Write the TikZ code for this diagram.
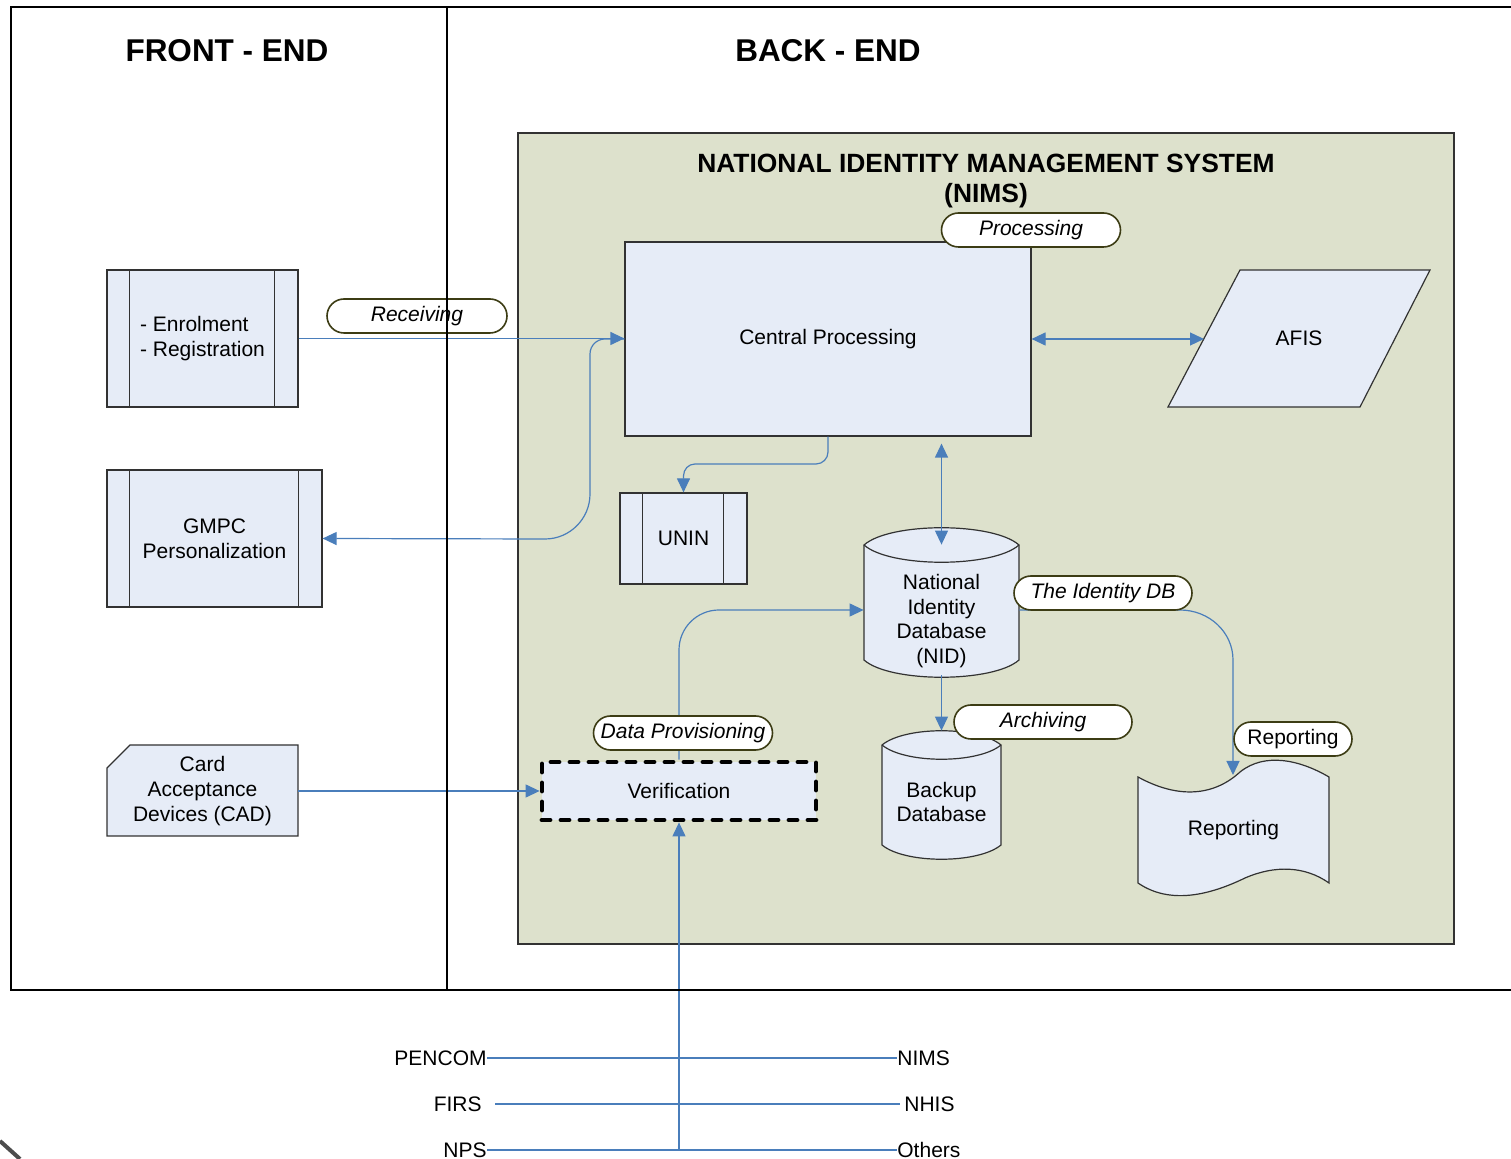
\documentclass[tikz,border=0pt]{standalone}
\usepackage{fontspec}
\setmainfont{Liberation Sans}
\usetikzlibrary{arrows.meta}

\definecolor{boxfill}{RGB}{230,236,247}
\definecolor{nimsfill}{RGB}{221,225,204}
\definecolor{flow}{RGB}{74,126,187}
\definecolor{pillrim}{RGB}{60,60,20}
\definecolor{rim}{RGB}{50,50,50}

\begin{document}
\begin{tikzpicture}[x=0.5pt,y=-0.5pt,
  every node/.style={font=\fontsize{10.5}{12.3}\selectfont, inner sep=0pt},
  box/.style={draw=rim, fill=boxfill, line width=0.6pt, align=center},
  shapebox/.style={draw=rim, fill=boxfill, line width=0.6pt},
  rimline/.style={draw=rim, line width=0.6pt},
  pill/.style={draw=pillrim, fill=white, line width=0.8pt, rounded corners=8.5pt,
    minimum height=17pt, font=\fontsize{10.5}{12.3}\selectfont\itshape},
  conn/.style={draw=flow, line width=0.6pt},
  heading/.style={font=\bfseries\fontsize{15.75}{18}\selectfont},
  >={Triangle[length=7pt,width=6.5pt]}
]
\path[use as bounding box] (0,0) rectangle (1511,1159);

% back-end system area
\filldraw[fill=nimsfill, draw=rim, line width=0.6pt] (518,133) rectangle (1454,944);

% headings
\node[heading] (fe) at (227,51) {FRONT - END};
\node[heading] (be) at (828,51) {BACK - END};
\node[font=\bfseries\fontsize{13.2}{15}\selectfont, align=center] (nimsT) at (986,181)
  {NATIONAL IDENTITY MANAGEMENT SYSTEM\\(NIMS)};

% central processing and AFIS
\node[box, minimum width=203pt, minimum height=97pt] (central) at (828,339) {Central Processing};
\draw[shapebox] (1240,270) -- (1430,270) -- (1360,407) -- (1168,407) -- cycle;
\node (afis) at (1299,338) {AFIS};
\coordinate (afisL) at (1204,339);

% front-end processes
\node[box, minimum width=95.5pt, minimum height=68.5pt, align=left] (enr) at (202.5,338.5)
  {- Enrolment\\- Registration};
\draw[rimline] ([xshift=11.5pt]enr.north west) -- ([xshift=11.5pt]enr.south west)
  ([xshift=-12pt]enr.north east) -- ([xshift=-12pt]enr.south east);

\node[box, minimum width=107.5pt, minimum height=68.5pt] (gmpc) at (214.5,538.5)
  {GMPC\\Personalization};
\draw[rimline] ([xshift=11.5pt]gmpc.north west) -- ([xshift=11.5pt]gmpc.south west)
  ([xshift=-12pt]gmpc.north east) -- ([xshift=-12pt]gmpc.south east);

\node[box, minimum width=63.5pt, minimum height=45.5pt] (unin) at (683.5,538.5) {UNIN};
\draw[rimline] ([xshift=11.5pt]unin.north west) -- ([xshift=11.5pt]unin.south west)
  ([xshift=-12pt]unin.north east) -- ([xshift=-12pt]unin.south east);

% card acceptance devices (card shape)
\draw[shapebox] (107,768) -- (130,745) -- (298,745) -- (298,836) -- (107,836) -- cycle;
\node[align=center, minimum width=95.5pt, minimum height=45.5pt] (cad) at (202.5,791)
  {Card\\Acceptance\\Devices (CAD)};

% verification
\node[box, draw=black, line width=2.4pt, dash pattern=on 4pt off 5.5pt, line cap=round,
  line join=round, minimum width=137pt, minimum height=29pt] (ver) at (679,791) {Verification};

% national identity database (cylinder)
\draw[shapebox] (864,545) .. controls (890,522) and (993,522) .. (1019,545) -- (1019,660)
  .. controls (993,683) and (890,683) .. (864,660) -- cycle;
\draw[rimline] (864,545) .. controls (890,568) and (993,568) .. (1019,545);
\node[minimum width=77.5pt, minimum height=65pt] (nid) at (941.5,610) {};
\node[align=center] (nidT) at (941.5,621) {National\\Identity\\Database\\(NID)};

% backup database (cylinder)
\draw[shapebox] (882,745) .. controls (905,726) and (978,726) .. (1001,745) -- (1001,845)
  .. controls (978,864) and (905,864) .. (882,845) -- cycle;
\draw[rimline] (882,745) .. controls (905,764) and (978,764) .. (1001,745);
\node[minimum width=59.5pt, minimum height=64pt] (backup) at (941.5,795) {};
\node[align=center] (backupT) at (941.5,802) {Backup\\Database};

% reporting (document shape)
\draw[shapebox] (1138,777) .. controls (1180,800) and (1215,795) .. (1240,772)
  .. controls (1265,752) and (1300,760) .. (1329,777) -- (1329,883)
  .. controls (1305,866) and (1275,865) .. (1245,878)
  .. controls (1210,895) and (1170,905) .. (1138,883) -- cycle;
\node (rep) at (1233.5,830) {Reporting};
\coordinate (repTop) at (1233,775);

% connectors
\draw[conn,->] (enr.east) -- (enr.east -| central.west);
\draw[conn,->] (central.west) -- (605,339) .. controls (596.7,339) and (590,345.7) .. (590,354)
  -- (590,494) .. controls (590,518.8) and (569.8,539) .. (545,539) -- (gmpc.east);
\draw[conn,->] (central.south) -- (828,452) .. controls (828,458.6) and (822.6,464) .. (816,464)
  -- (695,464) .. controls (688.4,464) and (683.5,469.4) .. (683.5,476) -- (unin.north);
\draw[conn,<->] (central.east) -- (afisL);
\draw[conn,<->,shorten <=3.5pt] (central.south -| nid.north) -- (nid.north);
\draw[conn,->] (nid.south) -- (backup.north);
\draw[conn,->] (nid.east) -- (1180,610) .. controls (1209,610) and (1233,632) .. (1233,660)
  -- (repTop);
\draw[conn,->] (ver.north) -- (679,650) .. controls (679,627.9) and (696.9,610) .. (719,610)
  -- (nid.west);
\draw[conn,->] (cad.east) -- (ver.west);

% agencies sharing the verification service
\node[anchor=east] (pencom) at (487,1058) {PENCOM};
\node[anchor=east] (firs) at (482,1104) {FIRS};
\node[anchor=east] (nps) at (487,1150) {NPS};
\node[anchor=west] (nimsR) at (897,1058) {NIMS};
\node[anchor=west] (nhis) at (904,1104) {NHIS};
\node[anchor=west] (others) at (897,1150) {Others};
\draw[conn] (pencom.east) -- (nimsR.west);
\draw[conn, shorten <=6.5pt, shorten >=2pt] (firs.east) -- (nhis.west);
\draw[conn] (nps.east) -- (others.west);
\coordinate (hub) at (nps.east -| ver.south);
\draw[conn,->] (hub) -- (ver.south);

% flow labels
\node[pill, minimum width=90pt] (lrecv) at (417,316) {Receiving};
\node[pill, minimum width=89.5pt] (lproc) at (1031,230) {Processing};
\node[pill, minimum width=89pt] (lidb) at (1103,593) {The Identity DB};
\node[pill, minimum width=89pt] (larch) at (1043,722) {Archiving};
\node[pill, minimum width=89.5pt] (lprov) at (683,733) {Data Provisioning};
\node[pill, minimum width=59pt, font=\fontsize{10.5}{12.3}\selectfont] (lrep) at (1293,739) {Reporting};

% front-end / back-end frame
\draw[black, line width=1pt] (1511,7) -- (11,7) -- (11,990) -- (1511,990);
\draw[black, line width=1pt] (447,7) -- (447,990);

% stray mark at the lower left corner
\draw[black!70, line width=2pt] (0,1141) -- (20,1159);
\end{tikzpicture}
\end{document}
